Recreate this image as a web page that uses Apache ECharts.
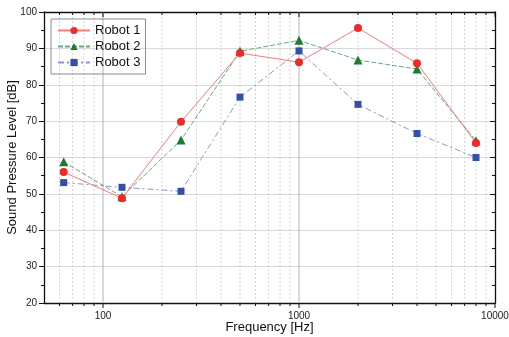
<!DOCTYPE html>
<html><head><meta charset="utf-8">
<script src="https://cdn.jsdelivr.net/npm/echarts@6/dist/echarts.min.js"></script>
<style>html,body{margin:0;padding:0;background:#fff}#c{width:509px;height:337px}</style>
</head><body><div id="c"></div>
<script>
const frequencies = [63, 125, 250, 500, 1000, 2000, 4000, 8000];
const robot1 = [56.0, 48.8, 69.8, 88.7, 86.2, 95.6, 85.9, 64.0];
const robot2 = [58.8, 49.2, 64.8, 89.2, 92.2, 86.8, 84.3, 64.6];
const robot3 = [53.1, 51.8, 50.7, 76.6, 89.3, 74.6, 66.6, 60.0];
const majorTicks = [100, 1000, 10000];
const minorTicks = [60,70,80,90,200,300,400,500,600,700,800,900,2000,3000,4000,5000,6000,7000,8000,9000];

const font = 'Liberation Sans, Arial, sans-serif';
const chart = echarts.init(document.getElementById('c'), null, {renderer: 'canvas'});
const pairs = arr => frequencies.map((f, i) => [f, arr[i]]);

chart.setOption({
  animation: false,
  backgroundColor: '#fff',
  grid: {left: 44, right: 14, top: 12, bottom: 34, containLabel: false, outerBoundsMode: 'none'},
  legend: {
    orient: 'vertical', left: 51, top: 19,
    borderColor: '#8a8a8a', borderWidth: 1, padding: [5, 5, 5, 6],
    itemWidth: 32, itemHeight: 9, itemGap: 3,
    textStyle: {fontFamily: font, fontSize: 13, color: '#111'},
    data: ['Robot 1', 'Robot 2', 'Robot 3']
  },
  xAxis: [{
    type: 'log', logBase: 10, min: 50, max: 10000,
    name: 'Frequency [Hz]', nameLocation: 'middle', nameGap: 18, nameMoveOverlap: false,
    nameTextStyle: {fontFamily: font, fontSize: 13, color: '#111'},
    axisLine: {lineStyle: {color: '#111', width: 1.3}},
    axisTick: {show: false},
    axisLabel: {show: false},
    splitLine: {show: false}
  }, {
    type: 'log', logBase: 10, min: 50, max: 10000, position: 'top',
    axisLine: {lineStyle: {color: '#111', width: 1.3}},
    axisTick: {show: false},
    axisLabel: {show: false}, splitLine: {show: false}
  }],
  yAxis: [{
    type: 'value', min: 20, max: 100, interval: 10,
    name: 'Sound Pressure Level [dB]', nameLocation: 'middle', nameGap: 25, nameMoveOverlap: false,
    nameTextStyle: {fontFamily: font, fontSize: 13, color: '#111'},
    axisLine: {show: true, lineStyle: {color: '#111', width: 1.3}},
    axisTick: {show: true, inside: false, length: 5, lineStyle: {color: '#111'}},
    minorTick: {show: true, splitNumber: 2, length: 3, lineStyle: {color: '#111'}},
    axisLabel: {fontFamily: font, fontSize: 10, color: '#222', margin: 7},
    splitLine: {show: true, lineStyle: {color: '#d9d9d9', width: 1}}
  }, {
    type: 'value', min: 20, max: 100, interval: 10, position: 'right',
    axisLine: {show: true, lineStyle: {color: '#111', width: 1.3}},
    axisTick: {show: true, inside: true, length: 5, lineStyle: {color: '#111'}},
    minorTick: {show: true, splitNumber: 2, length: 3, lineStyle: {color: '#111'}},
    axisLabel: {show: false}, splitLine: {show: false}
  }],
  series: [{
    type: 'custom', silent: true, z: 1,
    data: minorTicks.map(v => [v]),
    clip: false,
    renderItem: (params, api) => {
      const v = api.value(0);
      const b = api.coord([v, 20]);
      const t = api.coord([v, 100]);
      return {type: 'group', children: [
        {type: 'line', shape: {x1: b[0], y1: b[1], x2: t[0], y2: t[1]},
          style: {stroke: '#d2d2d2', lineWidth: 1, lineDash: [2, 2]}},
        {type: 'line', shape: {x1: b[0], y1: b[1], x2: b[0], y2: b[1] + 3},
          style: {stroke: '#111', lineWidth: 1}},
        {type: 'line', shape: {x1: t[0], y1: t[1], x2: t[0], y2: t[1] + 3},
          style: {stroke: '#111', lineWidth: 1}}
      ]};
    }
  }, {
    type: 'custom', silent: true, z: 1,
    data: majorTicks.map(v => [v]),
    clip: false,
    renderItem: (params, api) => {
      const v = api.value(0);
      const b = api.coord([v, 20]);
      const t = api.coord([v, 100]);
      const children = [
        {type: 'line', shape: {x1: b[0], y1: b[1], x2: b[0], y2: b[1] + 5},
          style: {stroke: '#111', lineWidth: 1}},
        {type: 'line', shape: {x1: t[0], y1: t[1], x2: t[0], y2: t[1] + 5},
          style: {stroke: '#111', lineWidth: 1}},
        {type: 'text', x: b[0], y: b[1] + 8,
          style: {text: String(v), fill: '#222', font: '10px ' + font, align: 'center', verticalAlign: 'top'}}
      ];
      if (v < 10000) children.unshift({type: 'line', shape: {x1: b[0], y1: b[1], x2: t[0], y2: t[1]},
        style: {stroke: '#b4b4b4', lineWidth: 1}});
      return {type: 'group', children};
    }
  }, {
    name: 'Robot 1', type: 'line', data: pairs(robot1), z: 5,
    symbol: 'circle', symbolSize: 8,
    itemStyle: {color: '#ee2a2a'},
    lineStyle: {color: '#f37c7c', width: 1, type: 'solid'}
  }, {
    name: 'Robot 2', type: 'line', data: pairs(robot2), z: 4,
    symbol: 'triangle', symbolSize: 9,
    itemStyle: {color: '#1f7a34'},
    lineStyle: {color: '#6aab78', width: 1, type: [5, 2]}
  }, {
    name: 'Robot 3', type: 'line', data: pairs(robot3), z: 3,
    symbol: 'rect', symbolSize: 7,
    itemStyle: {color: '#3450a6'},
    lineStyle: {color: '#8796d2', width: 1, type: [6, 3, 2, 3]}
  }]
});
</script></body></html>
